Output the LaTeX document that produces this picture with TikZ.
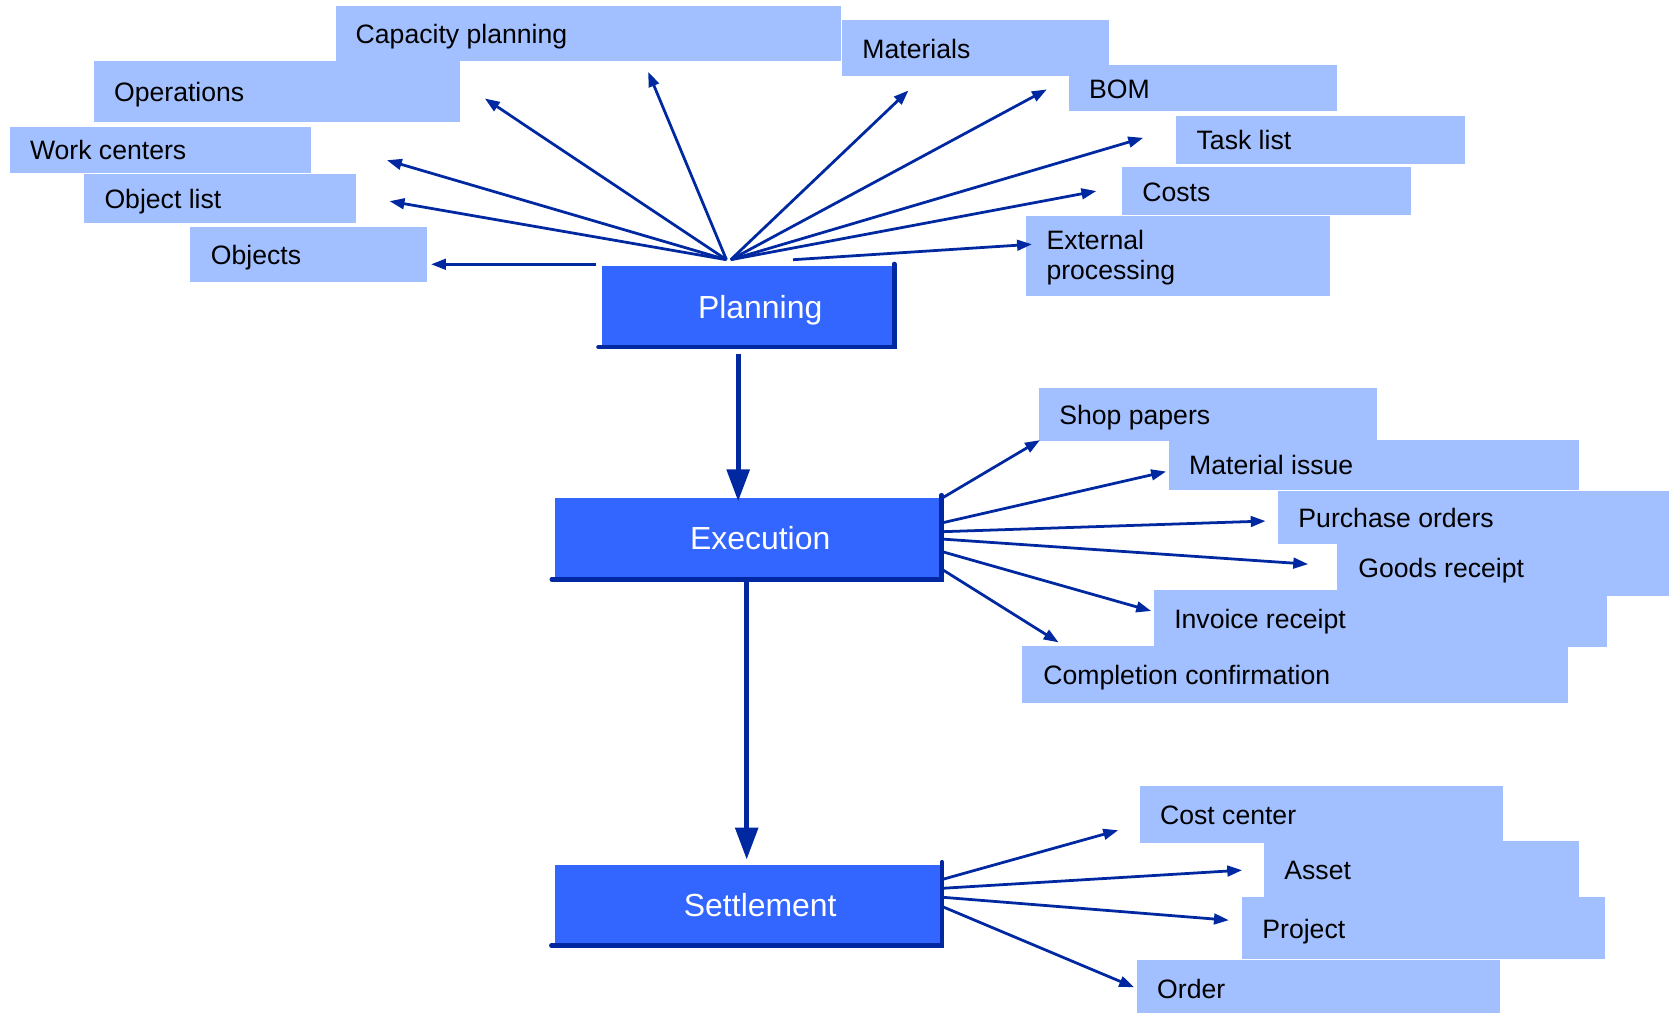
\documentclass[tikz,border=0pt]{standalone}
\usepackage{fontspec}
\setmainfont{Liberation Sans}
\usetikzlibrary{arrows.meta}

\definecolor{itemfill}{RGB}{162,192,255}
\definecolor{stagefill}{RGB}{51,102,255}
\definecolor{navy}{RGB}{0,40,160}

% fixed height/depth so every label sits at the same place in its box
\newcommand\lblstrut{\rule[-6pt]{0pt}{31pt}}

\tikzset{
  itembox/.style={fill=itemfill, draw=none, anchor=north west, inner sep=0pt},
  itemtext/.style={anchor=west, inner sep=0pt, align=left, text=black,
    font=\fontsize{25}{28}\selectfont},
  stagebox/.style={fill=stagefill, draw=none, anchor=north west, inner sep=0pt},
  stagetext/.style={inner sep=0pt, text=white, text height=22pt, text depth=7pt,
    font=\fontsize{30}{36}\selectfont},
  stageedge/.style={draw=navy, line width=4.3pt, line cap=round, line join=miter},
  feed/.style={draw=navy, line width=2.6pt, -{Triangle[length=14pt,width=10pt]}},
  flow/.style={draw=navy, line width=4.5pt, -{Triangle[length=30pt,width=21pt]}},
}

\begin{document}
\begin{tikzpicture}[x=1pt, y=-1pt]
\useasboundingbox (0,0) rectangle (1568,953);

% ---------- planning inputs ----------
\node[itembox, minimum width=475pt, minimum height=52pt] (cap)   at (315,5)   {};
\node[itembox, minimum width=344pt, minimum height=57pt] (ops)   at (88,57)   {};
\node[itembox, minimum width=251pt, minimum height=52pt] (mat)   at (791,19)  {};
\node[itembox, minimum width=252pt, minimum height=43pt] (bom)   at (1004,61) {};
\node[itembox, minimum width=271pt, minimum height=45pt] (task)  at (1105,109){};
\node[itembox, minimum width=271pt, minimum height=45pt] (costs) at (1054,157){};
\node[itembox, minimum width=285pt, minimum height=75pt] (ext)   at (964,203) {};
\node[itembox, minimum width=283pt, minimum height=43pt] (work)  at (9,119)   {};
\node[itembox, minimum width=255pt, minimum height=46pt] (olist) at (79,163)  {};
\node[itembox, minimum width=223pt, minimum height=52pt] (objs)  at (178,213) {};

\node[itemtext] (cap-t)   at ([xshift=19pt]cap.west)   {\lblstrut Capacity planning};
\node[itemtext] (ops-t)   at ([xshift=19pt]ops.west)   {\lblstrut Operations};
\node[itemtext] (mat-t)   at ([xshift=19pt]mat.west)   {\lblstrut Materials};
\node[itemtext] (bom-t)   at ([xshift=19pt]bom.west)   {\lblstrut BOM};
\node[itemtext] (task-t)  at ([xshift=19pt, yshift=1pt]task.west)  {\lblstrut Task list};
\node[itemtext] (costs-t) at ([xshift=19pt]costs.west) {\lblstrut Costs};
\node[itemtext] (ext-t)   at ([xshift=19pt, yshift=2pt]ext.west)
  {\rule{0pt}{25pt}External\\processing\rule[-6pt]{0pt}{6pt}};
\node[itemtext] (work-t)  at ([xshift=19pt]work.west)  {\lblstrut Work centers};
\node[itemtext] (olist-t) at ([xshift=19pt]olist.west) {\lblstrut Object list};
\node[itemtext] (objs-t)  at ([xshift=20pt]objs.west)  {\lblstrut Objects};

% ---------- execution outputs ----------
\node[itembox, minimum width=317pt, minimum height=49.5pt] (shop) at (976,364.5)    {};
\node[itembox, minimum width=385pt, minimum height=47pt]   (miss) at (1098,413.4)   {};
\node[itembox, minimum width=367pt, minimum height=49.5pt] (po)   at (1200.7,461.3) {};
\node[itembox, minimum width=314pt, minimum height=49pt]   (gr)   at (1256,510.8)   {};
\node[itembox, minimum width=426pt, minimum height=53pt]   (inv)  at (1084,554.3)   {};
\node[itembox, minimum width=513pt, minimum height=53pt]   (comp) at (960,607)      {};

\node[itemtext] (shop-t) at ([xshift=19pt]shop.west) {\lblstrut Shop papers};
\node[itemtext] (miss-t) at ([xshift=19pt, yshift=1pt]miss.west) {\lblstrut Material issue};
\node[itemtext] (po-t)   at ([xshift=19pt]po.west)   {\lblstrut Purchase orders};
\node[itemtext] (gr-t)   at ([xshift=20pt, yshift=2pt]gr.west)   {\lblstrut Goods receipt};
\node[itemtext] (inv-t)  at ([xshift=19pt]inv.west)  {\lblstrut Invoice receipt};
\node[itemtext] (comp-t) at ([xshift=20pt]comp.west) {\lblstrut Completion confirmation};

% ---------- settlement receivers ----------
\node[itembox, minimum width=341pt, minimum height=53.3pt] (cc)    at (1070.7,738.4) {};
\node[itembox, minimum width=296pt, minimum height=52.4pt] (asset) at (1187.5,790)   {};
\node[itembox, minimum width=341pt, minimum height=58pt]   (proj)  at (1166.8,842.7) {};
\node[itembox, minimum width=341pt, minimum height=50pt]   (order) at (1068,901.9)   {};

\node[itemtext] (cc-t)    at ([xshift=19pt]cc.west)    {\lblstrut Cost center};
\node[itemtext] (asset-t) at ([xshift=19pt]asset.west) {\lblstrut Asset};
\node[itemtext] (proj-t)  at ([xshift=19pt]proj.west)  {\lblstrut Project};
\node[itemtext] (order-t) at ([xshift=19pt, yshift=-1pt]order.west) {\lblstrut Order};

% ---------- the three stages ----------
\node[stagebox, minimum width=272.4pt, minimum height=73.5pt] (planning)   at (565.3,250)   {};
\node[stagebox, minimum width=360.6pt, minimum height=74.6pt] (execution)  at (521.4,467.2) {};
\node[stagebox, minimum width=361.7pt, minimum height=74pt]   (settlement) at (521,812)     {};

\foreach \s in {planning, execution, settlement}
  \draw[stageedge] ([xshift=-3pt, yshift=-2pt]\s.south west)
                -- ([xshift=2pt, yshift=-2pt]\s.south east)
                -- ([xshift=2pt, yshift=2pt]\s.north east);

\node[stagetext] (planning-t)   at ([xshift=12.5pt, yshift=-4.5pt]planning.center)   {Planning};
\node[stagetext] (execution-t)  at ([xshift=12.3pt, yshift=-4.5pt]execution.center)  {Execution};
\node[stagetext] (settlement-t) at ([xshift=12.2pt, yshift=-4.5pt]settlement.center) {Settlement};

% ---------- connector end points ----------
\coordinate (hubL) at (682.5,244);
\coordinate (hubR) at (686.5,244);
\coordinate (objs-s) at (560,248.3);
\coordinate (ext-s)  at (745,244);

\coordinate (cap-a)   at (609,67.5);
\coordinate (ops-a)   at (455.5,92.5);
\coordinate (work-a)  at (363.5,150.5);
\coordinate (olist-a) at (366,189);
\coordinate (objs-a)  at (405,248.3);
\coordinate (mat-a)   at (853.5,85);
\coordinate (bom-a)   at (983.5,84);
\coordinate (task-a)  at (1074,129.5);
\coordinate (costs-a) at (1030,179.5);
\coordinate (ext-a)   at (969.5,229.5);

\coordinate (shop-s) at (885,468);    \coordinate (shop-a) at (977,413.5);
\coordinate (miss-s) at (886,491);    \coordinate (miss-a) at (1095.5,443);
\coordinate (po-s)   at (886,499.5);  \coordinate (po-a)   at (1189,489.5);
\coordinate (gr-s)   at (886,506.5);  \coordinate (gr-a)   at (1229,530);
\coordinate (inv-s)  at (886,518.5);  \coordinate (inv-a)  at (1081.5,574);
\coordinate (comp-s) at (886,535.5);  \coordinate (comp-a) at (994.5,603.5);

\coordinate (cc-s)    at (886,826);   \coordinate (cc-a)    at (1050.5,780);
\coordinate (asset-s) at (886,834.5); \coordinate (asset-a) at (1167,817.5);
\coordinate (proj-s)  at (886,843);   \coordinate (proj-a)  at (1154.5,864.5);
\coordinate (order-s) at (886,852);   \coordinate (order-a) at (1065.5,927.5);

\coordinate (pe-s) at (693.5,333);   \coordinate (pe-a) at (693.5,471);
\coordinate (es-s) at (701.5,545.5); \coordinate (es-a) at (701.5,807.5);

% ---------- connectors ----------
\foreach \t in {cap, ops, work, olist}
  \draw[feed] (hubL) -- (\t-a);
\foreach \t in {mat, bom, task, costs}
  \draw[feed] (hubR) -- (\t-a);
\draw[feed] (objs-s) -- (objs-a);
\draw[feed] (ext-s) -- (ext-a);

\foreach \t in {shop, miss, po, gr, inv, comp}
  \draw[feed] (\t-s) -- (\t-a);
\foreach \t in {cc, asset, proj, order}
  \draw[feed] (\t-s) -- (\t-a);

\draw[flow] (pe-s) -- (pe-a);
\draw[flow] (es-s) -- (es-a);
\end{tikzpicture}
\end{document}
